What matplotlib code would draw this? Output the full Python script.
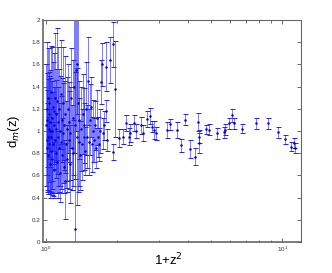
import matplotlib
matplotlib.use("Agg")
import matplotlib.pyplot as plt
from matplotlib.ticker import FormatStrFormatter, MultipleLocator

# x = 1+z^2, y = d_m(z), err = 1-sigma error
x_dense = [1.002, 1.005, 1.008, 1.010, 1.013, 1.016, 1.018, 1.021, 1.024, 1.027,
           1.030, 1.033, 1.036, 1.039, 1.042, 1.046, 1.050, 1.053, 1.057, 1.060,
           1.064, 1.068, 1.072, 1.076, 1.080, 1.084, 1.088, 1.093, 1.097, 1.101,
           1.106, 1.110, 1.115, 1.120, 1.125, 1.130, 1.135, 1.141, 1.146, 1.152,
           1.158, 1.164, 1.170, 1.176, 1.182, 1.188, 1.195, 1.201, 1.208, 1.215,
           1.222, 1.229, 1.236, 1.244, 1.252, 1.260, 1.268, 1.277, 1.286, 1.295,
           1.304, 1.313, 1.322, 1.330, 1.338, 1.346, 1.355, 1.364, 1.373, 1.383,
           1.393, 1.404, 1.415, 1.427, 1.440, 1.452, 1.465, 1.478, 1.492, 1.506,
           1.521, 1.536, 1.551, 1.566, 1.582, 1.597, 1.613, 1.628, 1.644, 1.660,
           1.676, 1.693, 1.711, 1.727, 1.744, 1.761, 1.790, 1.796, 1.819, 1.867,
           1.918, 1.929, 1.961]
y_dense = [1.05, 0.92, 1.20, 0.85, 1.10, 0.95, 1.30, 0.78, 1.02, 1.15,
           0.88, 1.25, 0.70, 1.00, 1.08, 0.82, 1.35, 0.95, 1.12, 0.75,
           1.00, 1.22, 0.88, 1.05, 0.65, 1.18, 0.92, 1.30, 0.80, 1.02,
           1.15, 0.72, 1.27, 0.95, 1.08, 0.85, 1.20, 0.62, 1.00, 1.33,
           0.90, 1.10, 0.78, 1.25, 0.98, 0.68, 1.05, 0.55, 1.15, 0.88,
           1.02, 0.75, 1.20, 0.92, 1.08, 0.70, 0.98, 1.30, 0.85, 1.12,
           0.80, 1.40, 1.05, 0.12, 1.55, 0.95, 1.60, 1.25, 0.90, 1.10,
           0.78, 1.02, 0.88, 1.15, 0.95, 1.05, 0.82, 1.20, 0.95, 1.45,
           0.90, 1.10, 1.22, 0.88, 1.00, 0.92, 1.05, 0.85, 1.12, 0.95,
           0.88, 1.00, 1.44, 1.60, 0.98, 1.05, 1.58, 1.18, 0.92, 1.64,
           1.78, 0.81, 1.38]
e_dense = [0.55, 0.45, 0.60, 0.40, 0.42, 0.52, 0.45, 0.35, 0.48, 0.38,
           0.42, 0.50, 0.30, 0.55, 0.40, 0.38, 0.42, 0.50, 0.64, 0.33,
           0.45, 0.40, 0.47, 0.35, 0.25, 0.52, 0.48, 0.58, 0.36, 0.44,
           0.41, 0.28, 0.66, 0.45, 0.68, 0.40, 0.36, 0.26, 0.50, 0.49,
           0.42, 0.38, 0.34, 0.51, 0.45, 0.24, 0.40, 0.34, 0.53, 0.39,
           0.47, 0.30, 0.40, 0.44, 0.36, 0.35, 0.42, 0.45, 0.38, 0.52,
           0.30, 0.60, 0.48, 2.00, 0.55, 0.62, 0.45, 0.80, 0.40, 0.35,
           0.31, 0.38, 0.32, 0.36, 0.30, 0.34, 0.22, 0.42, 0.28, 0.40,
           0.30, 0.32, 0.27, 0.25, 0.28, 0.20, 0.22, 0.18, 0.25, 0.18,
           0.15, 0.20, 0.20, 0.19, 0.14, 0.13, 0.22, 0.10, 0.10, 0.21,
           0.20, 0.07, 0.43]

x_tail = [2.039, 2.113, 2.183, 2.233, 2.270, 2.367, 2.407, 2.520, 2.569, 2.671,
          2.759, 2.821, 2.868, 2.925, 3.246, 3.353, 3.579, 3.733, 3.882, 4.074,
          4.276, 4.394, 4.420, 4.450, 4.750, 4.872, 5.289, 5.640, 5.735, 5.923,
          6.123, 6.218, 6.750, 7.759, 8.664, 9.553, 10.23, 10.89, 11.24, 11.35]
y_tail = [0.94, 0.95, 1.07, 0.95, 0.98, 1.07, 1.00, 1.05, 0.98, 1.11,
          1.135, 1.04, 1.01, 0.98, 1.01, 1.06, 1.01, 0.87, 1.10, 0.84,
          0.77, 1.08, 0.95, 0.89, 1.015, 1.01, 0.98, 0.99, 1.01, 1.07,
          1.14, 1.07, 1.02, 1.07, 1.07, 0.99, 0.925, 0.86, 0.89, 0.85]
e_tail = [0.08, 0.07, 0.07, 0.08, 0.08, 0.07, 0.06, 0.08, 0.07, 0.07,
          0.07, 0.05, 0.08, 0.06, 0.07, 0.05, 0.07, 0.06, 0.05, 0.08,
          0.08, 0.08, 0.06, 0.09, 0.04, 0.05, 0.05, 0.05, 0.05, 0.05,
          0.06, 0.05, 0.04, 0.05, 0.05, 0.05, 0.04, 0.04, 0.045, 0.045]

x_all = x_dense + x_tail
y_all = y_dense + y_tail
e_all = e_dense + e_tail

plt.rcParams['font.family'] = ['Liberation Sans', 'DejaVu Sans']

fig = plt.figure(figsize=(3.32, 2.73), dpi=100)
ax = fig.add_axes([0.1295, 0.1136, 0.777, 0.813])

eb = ax.errorbar(x_all, y_all, yerr=e_all, fmt='.', color='#0000d0',
                 markersize=1.6, ecolor='#2020ff', elinewidth=0.55,
                 capsize=1.8, capthick=0.7)
for cap in eb[1]:
    cap.set_color('#a5a5ff')
eb[2][0].set_alpha(0.75)

ax.set_xscale('log')
ax.set_xlim(0.97, 12.0)
ax.set_ylim(0, 2)
ax.yaxis.set_major_locator(MultipleLocator(0.2))
ax.yaxis.set_major_formatter(FormatStrFormatter('%g'))

ax.tick_params(which='both', direction='in', top=True, right=True,
               labelsize=4.5, colors='#333333', width=0.5, pad=2)
ax.tick_params(which='major', length=3)
ax.tick_params(which='minor', length=1.8)
for s in ax.spines.values():
    s.set_color('#666666')
    s.set_linewidth(0.8)
ax.spines['left'].set_linewidth(1.2)
ax.spines['bottom'].set_linewidth(1.2)

ax.set_xlabel('1+z$^2$', fontsize=9.5)
ax.xaxis.set_label_coords(0.485, -0.045)
ax.set_ylabel('d$_m$(z)', fontsize=9.5)
ax.yaxis.set_label_coords(-0.08, 0.5)

fig.savefig('out.png', dpi=100)
